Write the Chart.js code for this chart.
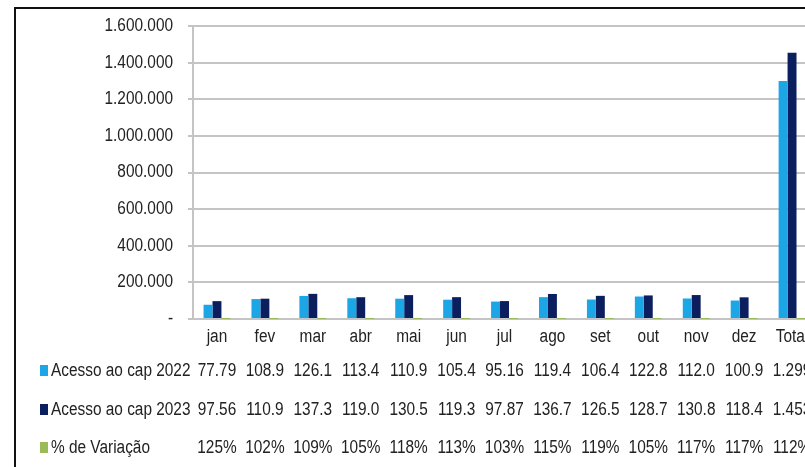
<!DOCTYPE html>
<html>
<head>
<meta charset="utf-8">
<script src="https://cdn.jsdelivr.net/npm/chart.js@4"></script>
<style>
    html, body { margin: 0; padding: 0; background: #fff; overflow: hidden; }
    #wrap { width: 830px; height: 467px; }
</style>
</head>
<body>
<div id="wrap"><canvas id="chart" width="830" height="467"></canvas></div>
<script>
const categories = ['jan', 'fev', 'mar', 'abr', 'mai', 'jun', 'jul', 'ago', 'set', 'out', 'nov', 'dez', 'Total'];
const acesso2022 = [77790, 108900, 126100, 113400, 110900, 105400, 95160, 119400, 106400, 122800, 112000, 100900, 1299150];
const acesso2023 = [97560, 110900, 137300, 119000, 130500, 119300, 97870, 136700, 126500, 128700, 130800, 118400, 1453530];
const variacao = [1.25, 1.02, 1.09, 1.05, 1.18, 1.13, 1.03, 1.15, 1.19, 1.05, 1.17, 1.17, 1.12];
const yTicks = [0, 200000, 400000, 600000, 800000, 1000000, 1200000, 1400000, 1600000];

const FONT = "'Liberation Sans', Arial, sans-serif";
const FONT_SIZE = 18;
const SQUEEZE = 0.855;   // the source text is a narrow (Calibri-like) face
const TEXT = '#222';
const GRID = '#c4c4c4';
const HIDDEN = 'rgba(0,0,0,0)';

// pt-BR style thousands: 1.600.000
function fmt(v) {
    return String(Math.round(v)).replace(/\B(?=(\d{3})+(?!\d))/g, '.');
}

const seriesInfo = [
    { label: 'Acesso ao cap 2022', data: acesso2022, color: '#1ca6e6', text: v => fmt(v).slice(0, 5) },
    { label: 'Acesso ao cap 2023', data: acesso2023, color: '#0b1f5e', text: v => fmt(v).slice(0, 5) },
    { label: '% de Variação', data: variacao, color: '#9bbb59', text: v => Math.round(v * 100) + '%' }
];
const rowY = [371, 410, 448];

function narrowText(ctx, str, x, y, align) {
    ctx.save();
    ctx.translate(x, y);
    ctx.scale(SQUEEZE, 1);
    ctx.textAlign = align;
    ctx.fillText(str, 0, 0);
    ctx.restore();
}

// axis labels, data table under the axis, outer frame
const tablePlugin = {
    id: 'dataTable',
    afterDraw(chart) {
        const ctx = chart.ctx;
        const x = chart.scales.x;
        const y = chart.scales.y;
        ctx.save();
        ctx.font = FONT_SIZE + 'px ' + FONT;
        ctx.textBaseline = 'middle';
        ctx.fillStyle = TEXT;

        y.ticks.forEach(t => {
            narrowText(ctx, t.value === 0 ? '-' : fmt(t.value), 173, y.getPixelForValue(t.value), 'right');
        });
        categories.forEach((c, i) => {
            narrowText(ctx, c, x.getPixelForValue(i), 337, 'center');
        });

        seriesInfo.forEach((s, r) => {
            const ry = rowY[r];
            ctx.fillStyle = s.color;
            ctx.fillRect(40, ry - 6, 8, 11);
            ctx.fillStyle = TEXT;
            narrowText(ctx, s.label, 51, ry, 'left');
            s.data.forEach((v, i) => {
                narrowText(ctx, s.text(v), x.getPixelForValue(i), ry, 'center');
            });
        });

        ctx.strokeStyle = '#111';
        ctx.lineWidth = 2;
        ctx.strokeRect(15, 8, chart.width + 20, chart.height + 20);
        ctx.restore();
    }
};

const ctx = document.getElementById('chart').getContext('2d');
new Chart(ctx, {
    type: 'bar',
    data: {
        labels: categories,
        datasets: seriesInfo.map(s => ({
            label: s.label,
            data: s.data,
            backgroundColor: s.color,
            borderWidth: 0,
            categoryPercentage: 0.56,
            barPercentage: 1.0
        }))
    },
    options: {
        responsive: false,
        animation: false,
        layout: { padding: { top: 26, right: 14, left: 0, bottom: 0 } },
        plugins: {
            legend: { display: false },
            tooltip: { enabled: false },
            title: { display: false }
        },
        scales: {
            x: {
                grid: { display: false, drawTicks: false },
                border: { display: true, color: GRID, width: 2 },
                ticks: {
                    color: HIDDEN,
                    font: { family: FONT, size: FONT_SIZE },
                    padding: 6,
                    maxRotation: 0,
                    autoSkip: false
                },
                afterFit(scale) { scale.height = 148; }
            },
            y: {
                min: 0,
                max: 1600000,
                afterBuildTicks(scale) { scale.ticks = yTicks.map(v => ({ value: v })); },
                grid: { color: GRID, lineWidth: 2, drawTicks: true, tickLength: 5 },
                border: { display: true, color: GRID, width: 2 },
                ticks: {
                    color: HIDDEN,
                    font: { family: FONT, size: FONT_SIZE },
                    padding: 15,
                    callback: v => v === 0 ? '-' : fmt(v)
                },
                afterFit(scale) { scale.width = 193; }
            }
        }
    },
    plugins: [tablePlugin]
});
</script>
</body>
</html>
